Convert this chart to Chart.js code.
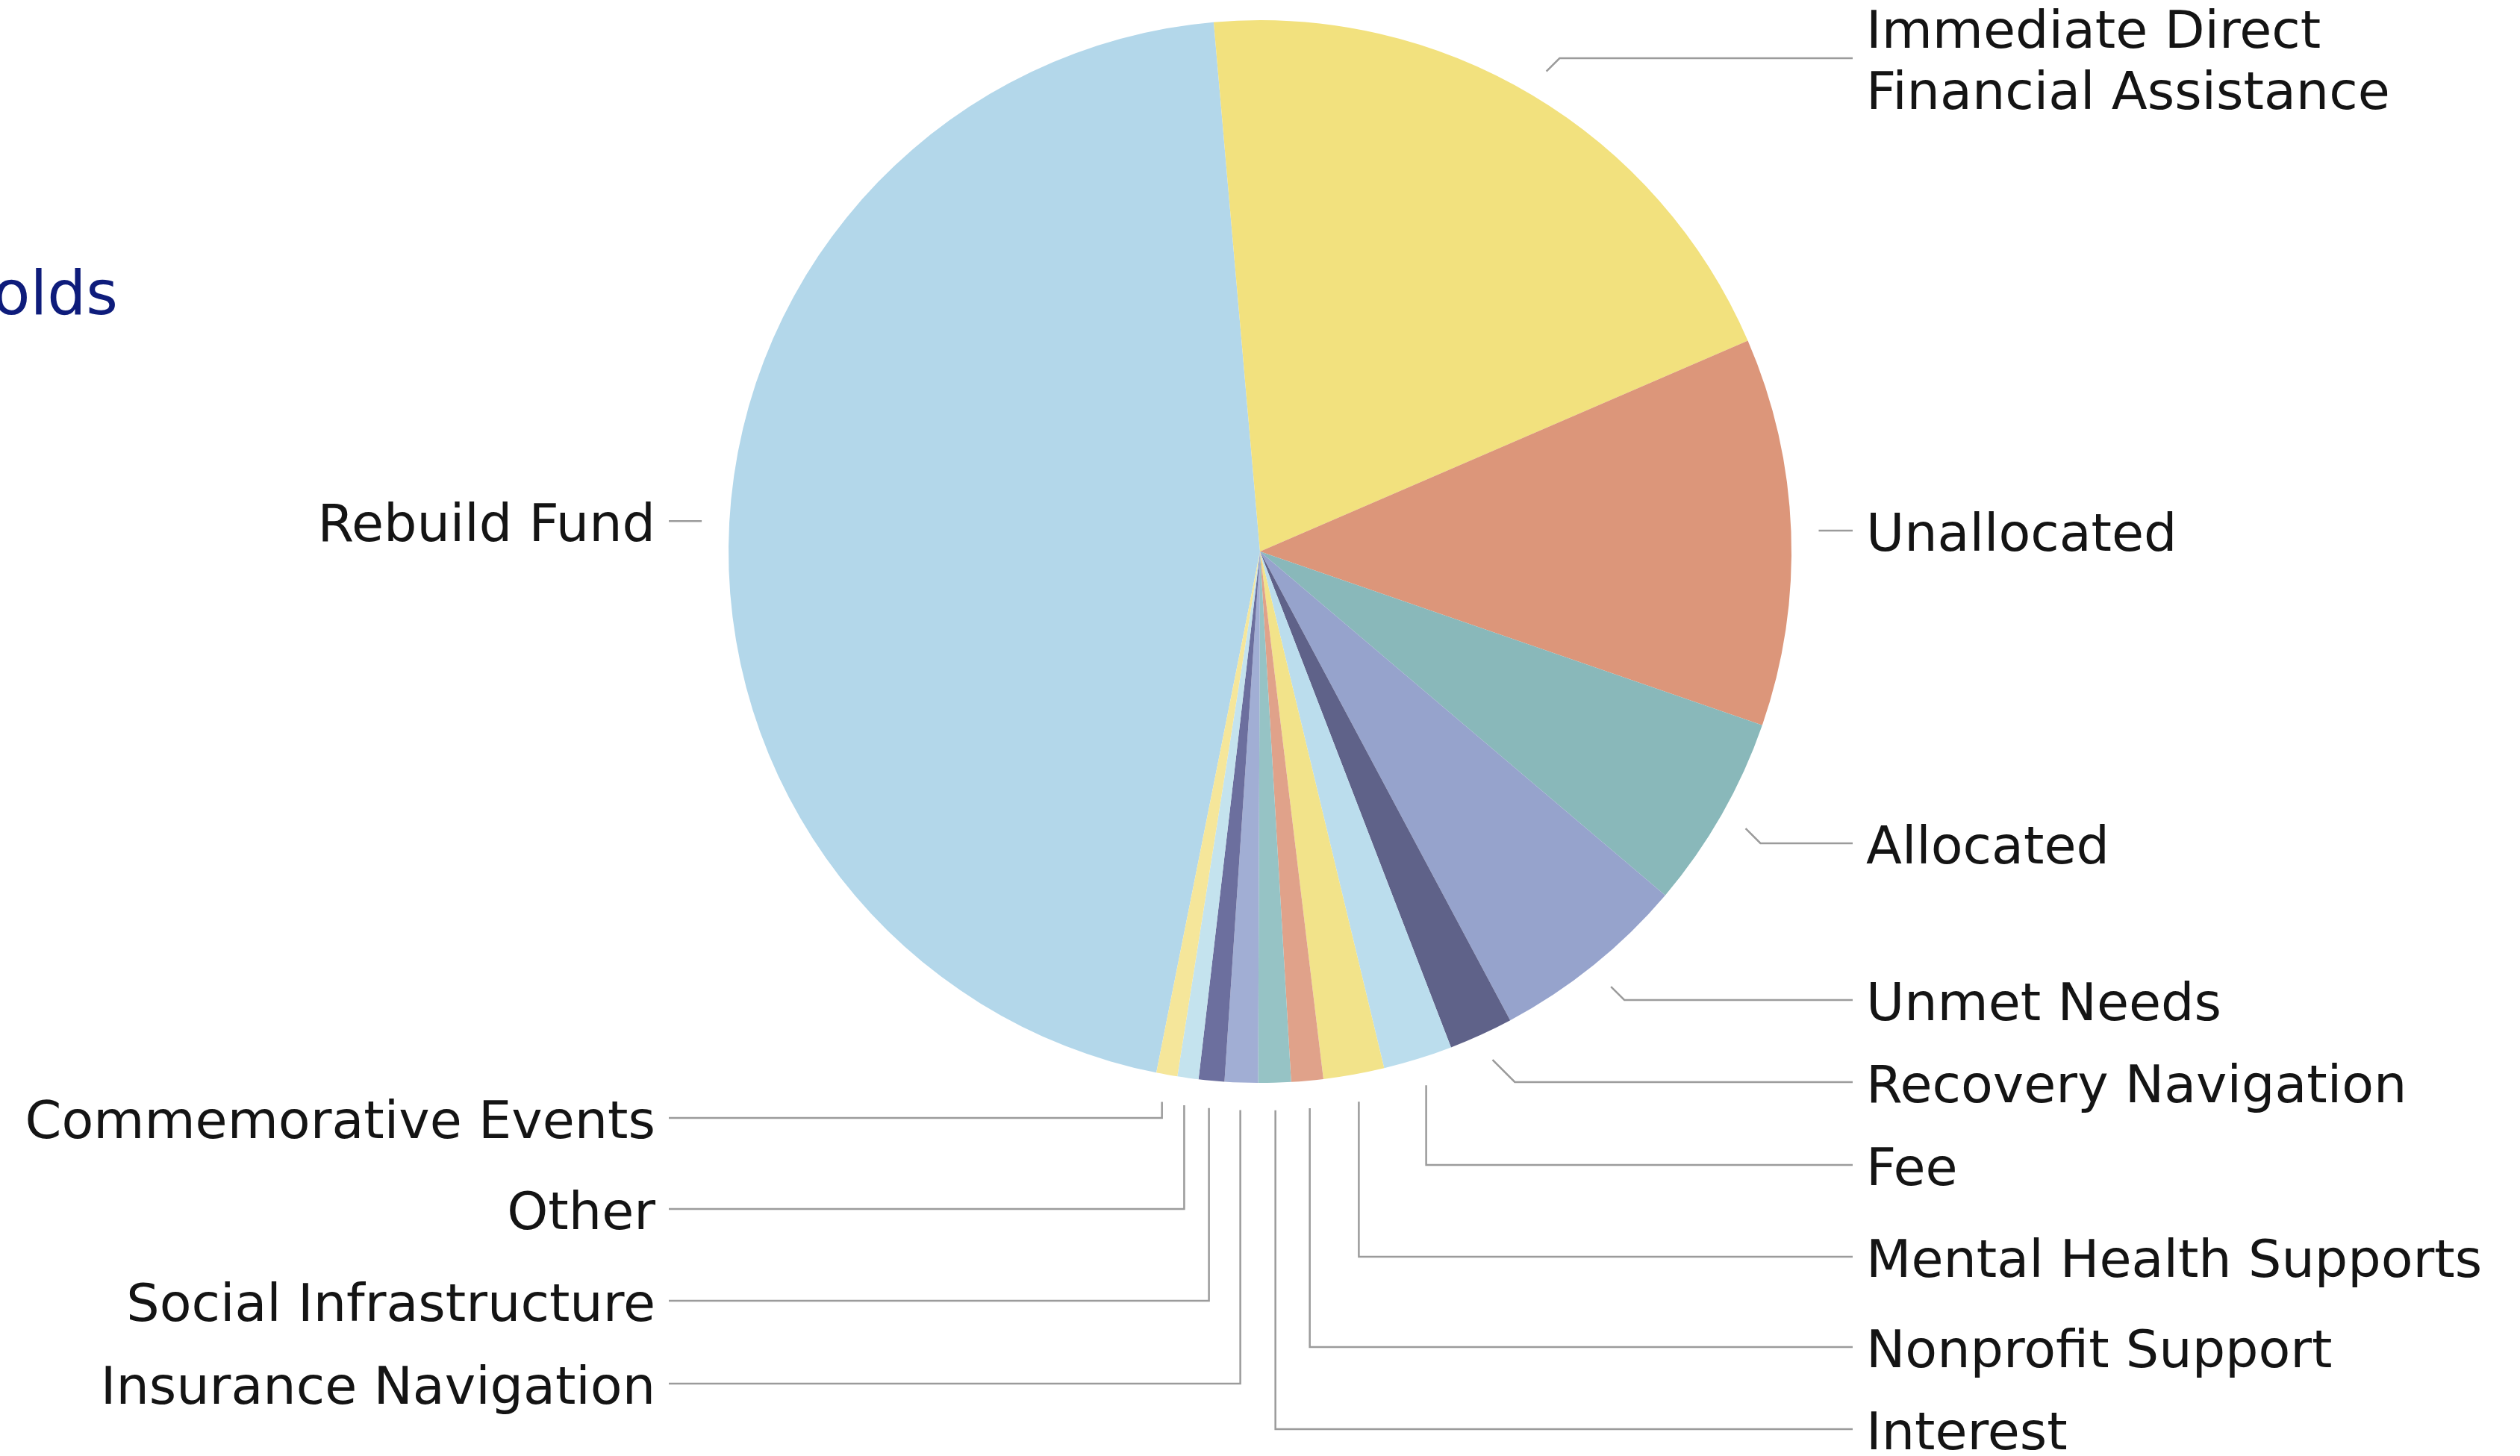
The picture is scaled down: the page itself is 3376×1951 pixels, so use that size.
<!DOCTYPE html>
<html>
<head>
<meta charset="utf-8">
<script src="https://cdn.jsdelivr.net/npm/chart.js@4.4.0/dist/chart.umd.min.js"></script>
<style>
  html, body { margin: 0; padding: 0; background: #ffffff; }
  #wrap { position: relative; width: 3376px; height: 1951px; }
</style>
</head>
<body>
<div id="wrap"><canvas id="fundPie"></canvas></div>
<script>
// slices, clockwise from the start of Rebuild Fund
const categories = [
    'Rebuild Fund',
    ['Immediate Direct', 'Financial Assistance'],
    'Unallocated',
    'Allocated',
    'Unmet Needs',
    'Recovery Navigation',
    'Fee',
    'Mental Health Supports',
    'Nonprofit Support',
    'Interest',
    'Insurance Navigation',
    'Social Infrastructure',
    'Other',
    'Commemorative Events'
];

// share of total, percent
const shares = [45.5, 19.9, 11.8, 5.9, 6.0, 1.95, 2.1, 1.85, 0.97, 0.99, 1.01, 0.78, 0.64, 0.64];

const sliceColours = [
    '#B3D7EA', '#F2E17E', '#DC967A', '#89B8BA', '#96A3CC', '#5F6289',
    '#BBDDED', '#F2E38A', '#E0A28A', '#96C3C5', '#A1AED4', '#6C6F9E',
    '#C4E3EE', '#F5E69A'
];

// where each callout label sits vertically (null = level with its slice)
const calloutY = [null, 78, null, 1130, 1340, 1450, 1561, 1684, 1805, 1915, 1854, 1743, 1620, 1498];

const LABEL_FONT = '70px "DejaVu Sans"';

// leader lines + labels drawn around the pie
const calloutPlugin = {
    id: 'callouts',
    afterDatasetsDraw(chart) {
        const ctx = chart.ctx;
        const arcs = chart.getDatasetMeta(0).data;
        ctx.save();
        ctx.font = LABEL_FONT;
        ctx.lineWidth = 2.5;
        ctx.strokeStyle = '#9b9b9b';
        ctx.fillStyle = '#141414';

        arcs.forEach((arc, i) => {
            const { x, y, startAngle, endAngle, outerRadius } = arc.getProps(['x', 'y', 'startAngle', 'endAngle', 'outerRadius'], true);
            const mid = (startAngle + endAngle) / 2;
            const r = outerRadius + 37;
            const sx = x + Math.cos(mid) * r;
            const sy = y + Math.sin(mid) * r;
            const right = Math.cos(mid) > 0;
            const ly = calloutY[i] === null ? sy : calloutY[i];
            const endX = right ? x + 794 : x - 792;

            // angle from the top, clockwise, in degrees
            let fromTop = (mid * 180 / Math.PI + 90) % 360;
            if (fromTop < 0) fromTop += 360;

            ctx.beginPath();
            ctx.moveTo(sx, sy);
            const dy = ly - sy;
            if (Math.abs(dy) > 2) {
                if (fromTop > 160 && fromTop < 200) {
                    ctx.lineTo(sx, ly); // straight down
                } else {
                    ctx.lineTo(sx + (right ? 1 : -1) * Math.abs(dy), ly); // 45 degree elbow
                }
            }
            ctx.lineTo(endX, ly);
            ctx.stroke();

            const lines = Array.isArray(categories[i]) ? categories[i] : [categories[i]];
            const lineH = 82;
            const capHalf = 25;
            const top = ly + 2 - (lines.length - 1) * lineH / 2;
            ctx.textAlign = right ? 'left' : 'right';
            ctx.textBaseline = 'alphabetic';
            lines.forEach((txt, k) => {
                ctx.fillText(txt, right ? endX + 18 : endX - 18, top + k * lineH + capHalf);
            });
        });

        // tail of the section heading that runs off the left edge
        ctx.font = '82px "DejaVu Sans"';
        ctx.fillStyle = '#0E1C7B';
        ctx.textAlign = 'right';
        ctx.fillText('olds', 158, 421);
        ctx.restore();
    }
};

const ctx = document.getElementById('fundPie').getContext('2d');
new Chart(ctx, {
    type: 'pie',
    data: {
        labels: categories,
        datasets: [{
            data: shares,
            backgroundColor: sliceColours,
            borderWidth: 0,
            hoverOffset: 0
        }]
    },
    options: {
        responsive: true,
        maintainAspectRatio: false,
        animation: false,
        rotation: 191.25,
        layout: {
            padding: { top: 27, bottom: 500, left: 0, right: 0 }
        },
        plugins: {
            legend: { display: false },
            tooltip: { enabled: false }
        }
    },
    plugins: [calloutPlugin]
});
</script>
</body>
</html>
